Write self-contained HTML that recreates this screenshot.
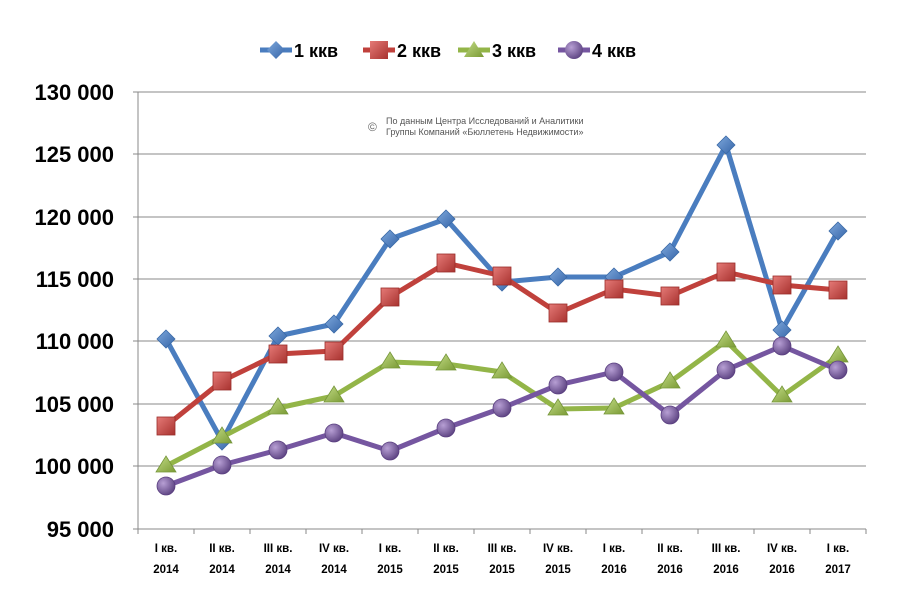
<!DOCTYPE html><html><head><meta charset="utf-8"><style>body{margin:0;background:#fff}svg{display:block}</style></head><body>
<svg width="900" height="611" xmlns="http://www.w3.org/2000/svg" font-family="Liberation Sans, sans-serif">
<defs>
<linearGradient id="b" x1="0" y1="0" x2="1" y2="1"><stop offset="0" stop-color="#7fa8dc"/><stop offset="1" stop-color="#3565a8"/></linearGradient>
<linearGradient id="r" x1="0" y1="0" x2="1" y2="1"><stop offset="0" stop-color="#e57a77"/><stop offset="1" stop-color="#a8322f"/></linearGradient>
<linearGradient id="g" x1="0" y1="0" x2="1" y2="1"><stop offset="0" stop-color="#c4dd88"/><stop offset="1" stop-color="#7a9a34"/></linearGradient>
<radialGradient id="p" cx="0.35" cy="0.35" r="0.7"><stop offset="0" stop-color="#b79fd4"/><stop offset="1" stop-color="#5d4382"/></radialGradient>
</defs>
<g stroke="#888" stroke-width="1">
<line x1="138" y1="92" x2="866" y2="92"/><line x1="138" y1="154" x2="866" y2="154"/><line x1="138" y1="217" x2="866" y2="217"/><line x1="138" y1="279" x2="866" y2="279"/><line x1="138" y1="341" x2="866" y2="341"/><line x1="138" y1="404" x2="866" y2="404"/><line x1="138" y1="466" x2="866" y2="466"/>
<line x1="138" y1="92" x2="138" y2="529"/><line x1="138" y1="529" x2="866" y2="529"/>
<path d="M138 529v5M194 529v5M250 529v5M306 529v5M362 529v5M418 529v5M474 529v5M530 529v5M586 529v5M642 529v5M698 529v5M754 529v5M810 529v5M866 529v5M133 92h5M133 154h5M133 217h5M133 279h5M133 341h5M133 404h5M133 466h5M133 529h5"/>
</g>
<g font-size="22" font-weight="bold" text-anchor="end" fill="#000">
<text x="114" y="100">130 000</text><text x="114" y="162">125 000</text><text x="114" y="225">120 000</text><text x="114" y="287">115 000</text><text x="114" y="349">110 000</text><text x="114" y="412">105 000</text><text x="114" y="474">100 000</text><text x="114" y="537">95 000</text>
</g>
<g font-size="11.5" font-weight="bold" text-anchor="middle">
<text x="166" y="552">I кв.</text><text x="166" y="573">2014</text>
<text x="222" y="552">II кв.</text><text x="222" y="573">2014</text>
<text x="278" y="552">III кв.</text><text x="278" y="573">2014</text>
<text x="334" y="552">IV кв.</text><text x="334" y="573">2014</text>
<text x="390" y="552">I кв.</text><text x="390" y="573">2015</text>
<text x="446" y="552">II кв.</text><text x="446" y="573">2015</text>
<text x="502" y="552">III кв.</text><text x="502" y="573">2015</text>
<text x="558" y="552">IV кв.</text><text x="558" y="573">2015</text>
<text x="614" y="552">I кв.</text><text x="614" y="573">2016</text>
<text x="670" y="552">II кв.</text><text x="670" y="573">2016</text>
<text x="726" y="552">III кв.</text><text x="726" y="573">2016</text>
<text x="782" y="552">IV кв.</text><text x="782" y="573">2016</text>
<text x="838" y="552">I кв.</text><text x="838" y="573">2017</text>
</g>
<text x="368" y="131" font-size="12" fill="#666">©</text>
<text x="386" y="124" font-size="9" fill="#555">По данным Центра Исследований и Аналитики</text>
<text x="386" y="135" font-size="9" fill="#555">Группы Компаний «Бюллетень Недвижимости»</text>
<g fill="none" stroke-width="5" stroke-linejoin="round">
<polyline stroke="#4a7dbf" points="166,339 222,441 278,336 334,324 390,239 446,219 502,282 558,277 614,277 670,252 726,145 782,330 838,231"/>
<polyline stroke="#c0413c" points="166,426 222,381 278,354 334,351 390,297 446,263 502,276 558,313 614,289 670,296 726,272 782,285 838,290"/>
<polyline stroke="#93b548" points="166,466 222,437 278,408 334,396 390,362 446,364 502,372 558,409 614,408 670,382 726,341 782,396 838,356"/>
<polyline stroke="#7556a0" points="166,486 222,465 278,450 334,433 390,451 446,428 502,408 558,385 614,372 670,415 726,370 782,346 838,370"/>
</g>
<g fill="url(#b)" stroke="#3a6aa8" stroke-width="0.8">
<path id="d" d="M0-9L9 0L0 9L-9 0Z" transform="translate(166,339)"/>
<path d="M0-9L9 0L0 9L-9 0Z" transform="translate(222,441)"/><path d="M0-9L9 0L0 9L-9 0Z" transform="translate(278,336)"/><path d="M0-9L9 0L0 9L-9 0Z" transform="translate(334,324)"/><path d="M0-9L9 0L0 9L-9 0Z" transform="translate(390,239)"/><path d="M0-9L9 0L0 9L-9 0Z" transform="translate(446,219)"/><path d="M0-9L9 0L0 9L-9 0Z" transform="translate(502,282)"/><path d="M0-9L9 0L0 9L-9 0Z" transform="translate(558,277)"/><path d="M0-9L9 0L0 9L-9 0Z" transform="translate(614,277)"/><path d="M0-9L9 0L0 9L-9 0Z" transform="translate(670,252)"/><path d="M0-9L9 0L0 9L-9 0Z" transform="translate(726,145)"/><path d="M0-9L9 0L0 9L-9 0Z" transform="translate(782,330)"/><path d="M0-9L9 0L0 9L-9 0Z" transform="translate(838,231)"/>
</g>
<g fill="url(#r)" stroke="#9a2d2a" stroke-width="0.8">
<rect x="157" y="417" width="18" height="18"/><rect x="213" y="372" width="18" height="18"/><rect x="269" y="345" width="18" height="18"/><rect x="325" y="342" width="18" height="18"/><rect x="381" y="288" width="18" height="18"/><rect x="437" y="254" width="18" height="18"/><rect x="493" y="267" width="18" height="18"/><rect x="549" y="304" width="18" height="18"/><rect x="605" y="280" width="18" height="18"/><rect x="661" y="287" width="18" height="18"/><rect x="717" y="263" width="18" height="18"/><rect x="773" y="276" width="18" height="18"/><rect x="829" y="281" width="18" height="18"/>
</g>
<g fill="url(#g)" stroke="#76963a" stroke-width="0.8">
<path d="M166,456l10,16h-20z"/><path d="M222,427l10,16h-20z"/><path d="M278,398l10,16h-20z"/><path d="M334,386l10,16h-20z"/><path d="M390,352l10,16h-20z"/><path d="M446,354l10,16h-20z"/><path d="M502,362l10,16h-20z"/><path d="M558,399l10,16h-20z"/><path d="M614,398l10,16h-20z"/><path d="M670,372l10,16h-20z"/><path d="M726,331l10,16h-20z"/><path d="M782,386l10,16h-20z"/><path d="M838,346l10,16h-20z"/>
</g>
<g fill="url(#p)" stroke="#5a3f80" stroke-width="0.8">
<circle cx="166" cy="486" r="9"/><circle cx="222" cy="465" r="9"/><circle cx="278" cy="450" r="9"/><circle cx="334" cy="433" r="9"/><circle cx="390" cy="451" r="9"/><circle cx="446" cy="428" r="9"/><circle cx="502" cy="408" r="9"/><circle cx="558" cy="385" r="9"/><circle cx="614" cy="372" r="9"/><circle cx="670" cy="415" r="9"/><circle cx="726" cy="370" r="9"/><circle cx="782" cy="346" r="9"/><circle cx="838" cy="370" r="9"/>
</g>
<g font-size="18" font-weight="bold" fill="#000">
<line x1="260" y1="50" x2="292" y2="50" stroke="#4a7dbf" stroke-width="5"/><path d="M276,41l9,9l-9,9l-9,-9z" fill="url(#b)"/><text x="294" y="57">1 ккв</text>
<line x1="363" y1="50" x2="395" y2="50" stroke="#c0413c" stroke-width="5"/><rect x="370" y="41" width="18" height="18" fill="url(#r)"/><text x="397" y="57">2 ккв</text>
<line x1="458" y1="50" x2="490" y2="50" stroke="#93b548" stroke-width="5"/><path d="M474,41l10,16h-20z" fill="url(#g)"/><text x="492" y="57">3 ккв</text>
<line x1="558" y1="50" x2="590" y2="50" stroke="#7556a0" stroke-width="5"/><circle cx="574" cy="50" r="9" fill="url(#p)"/><text x="592" y="57">4 ккв</text>
</g>
</svg>
</body></html>
